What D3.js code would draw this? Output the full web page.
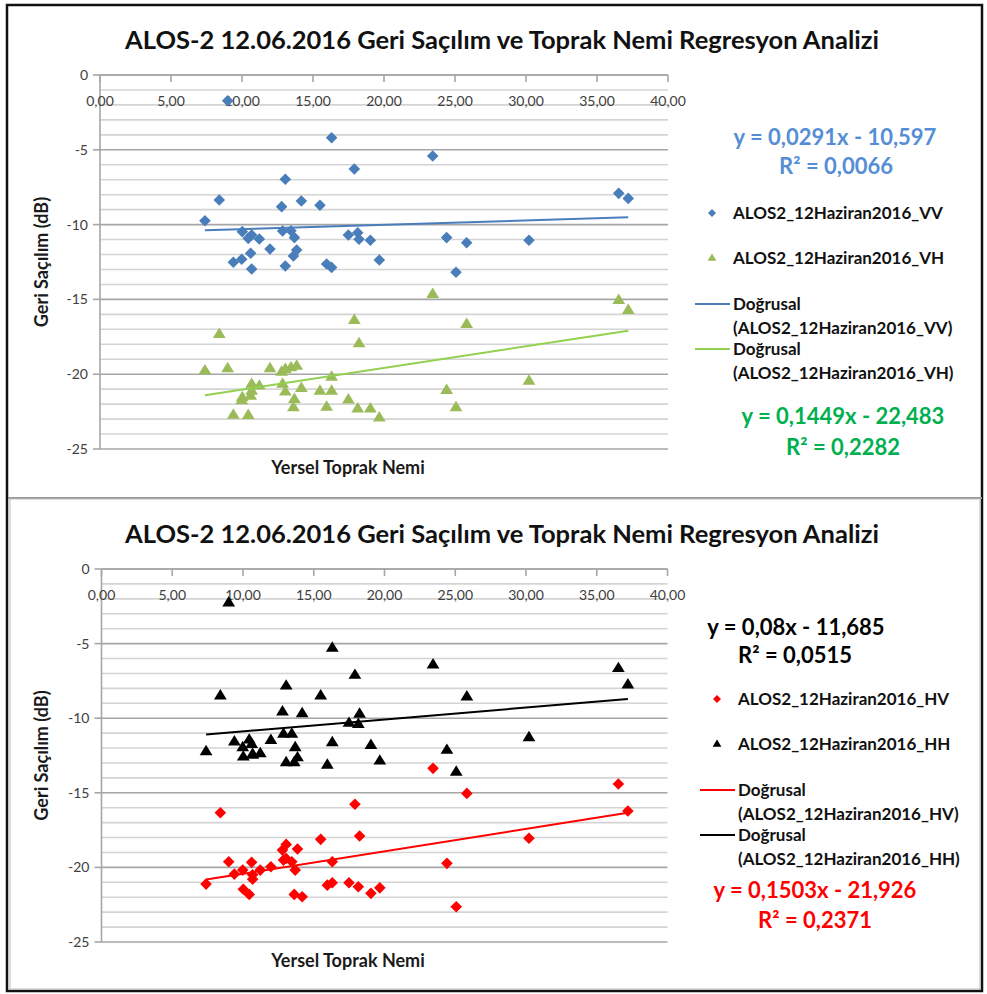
<!DOCTYPE html>
<html>
<head>
<meta charset="utf-8">
<script src="https://cdn.jsdelivr.net/npm/d3@7"></script>
<style>
  body { margin: 0; background: #fff; }
  text { font-family: Lato, "Open Sans", sans-serif; }
  .tick_lbl { font-size: 14px; fill: #404040; }
  .axis_title { font-size: 18px; font-weight: bold; fill: #1a1a1a; }
  .title { font-size: 25.5px; font-weight: bold; fill: #111; }
  .leg { font-size: 17px; font-weight: bold; fill: #111; }
  .eq { font-size: 22px; font-weight: bold; }
</style>
</head>
<body>
<svg id="chart" width="987" height="994"></svg>
<script>
// soil moisture (x) shared by every series
const nem = [7.39, 8.40, 8.99, 9.39, 9.98, 10.02, 10.44, 10.61, 10.68, 10.68,
             11.22, 11.97, 12.79, 12.86, 13.05, 13.05, 13.45, 13.62, 13.69, 13.85,
             14.18, 15.49, 15.96, 16.31, 16.31, 17.49, 17.91, 18.15, 18.24, 19.04,
             19.67, 23.43, 24.41, 25.07, 25.82, 30.21, 36.53, 37.20];

const vv = [-9.74, -8.36, -1.72, -12.52, -12.32, -10.47, -10.92, -11.92, -10.70, -12.97,
            -10.96, -11.63, -8.80, -10.43, -6.97, -12.77, -10.41, -12.10, -10.87, -11.70,
            -8.42, -8.71, -12.63, -4.19, -12.86, -10.70, -6.28, -10.54, -10.98, -11.05,
            -12.37, -5.41, -10.87, -13.19, -11.21, -11.05, -7.91, -8.25];

const vh = [-19.70, -17.27, -19.56, -22.66, -21.70, -21.50, -22.68, -21.39, -20.60, -21.06,
            -20.72, -19.56, -19.79, -20.60, -19.61, -21.12, -19.50, -22.17, -21.61, -19.39,
            -20.88, -21.06, -22.13, -20.12, -21.06, -21.65, -16.33, -22.25, -17.89, -22.25,
            -22.85, -14.60, -21.01, -22.17, -16.60, -20.39, -15.00, -15.66];

const hv = [-21.12, -16.34, -19.62, -20.45, -20.18, -21.46, -21.81, -19.66, -20.79, -20.50,
            -20.18, -19.96, -18.84, -19.51, -18.46, -19.40, -19.62, -21.81, -20.18, -18.77,
            -21.97, -18.12, -21.19, -19.62, -21.03, -21.03, -15.77, -21.30, -17.90, -21.74,
            -21.37, -13.36, -19.73, -22.64, -15.04, -18.05, -14.41, -16.22];

const hh = [-12.17, -8.44, -2.20, -11.52, -11.90, -12.53, -11.39, -11.68, -12.35, -12.40,
            -12.31, -11.41, -9.51, -11.00, -7.77, -12.91, -11.00, -12.91, -11.90, -12.58,
            -9.62, -8.44, -13.07, -5.23, -11.57, -10.27, -7.05, -10.34, -9.66, -11.75,
            -12.80, -6.36, -12.08, -13.54, -8.50, -11.23, -6.60, -7.70];

const xTicks = [0, 5, 10, 15, 20, 25, 30, 35, 40];
const yTicks = [0, -5, -10, -15, -20, -25];
const yMinor = d3.range(-25, 1, 1);

// linear trend: slope, intercept
const fitVV = [0.0291, -10.597];
const fitVH = [0.1449, -22.483];
const fitHV = [0.1503, -21.926];
const fitHH = [0.08, -11.685];

const title = "ALOS-2 12.06.2016 Geri Saçılım ve Toprak Nemi Regresyon Analizi";
const xTitle = "Yersel Toprak Nemi";
const yTitle = "Geri Saçılım (dB)";

let svg = d3.select("#chart");

// frame
svg.append("rect").attr("x", 7).attr("y", 5).attr("width", 975).attr("height", 986)
    .attr("fill", "none").attr("stroke", "#111").attr("stroke-width", 2.5);
svg.append("line").attr("x1", 8).attr("x2", 982).attr("y1", 498).attr("y2", 498)
    .attr("stroke", "#999").attr("stroke-width", 2);
svg.append("rect").attr("x", 10).attr("y", 499).attr("width", 970).attr("height", 490)
    .attr("fill", "none").attr("stroke", "#bbb").attr("stroke-width", 1);

function diamond(g, x, y, s, color) {
    let p = d3.path();
    p.moveTo(x, y - s); p.lineTo(x + s, y); p.lineTo(x, y + s); p.lineTo(x - s, y); p.closePath();
    g.append("path").attr("d", p.toString()).attr("fill", color);
}

function triangle(g, x, y, s, color) {
    let p = d3.path();
    p.moveTo(x, y - s); p.lineTo(x + s * 1.1, y + s * 0.8); p.lineTo(x - s * 1.1, y + s * 0.8); p.closePath();
    g.append("path").attr("d", p.toString()).attr("fill", color);
}

function drawPanel(o) {
    let g = svg.append("g");
    let x = d3.scaleLinear().domain([0, 40]).range([o.left, o.right]);
    let y = d3.scaleLinear().domain([0, -25]).range([o.top, o.bottom]);

    g.append("text").attr("class", "title").attr("x", 502).attr("y", o.top - 26)
        .attr("text-anchor", "middle").text(title);

    // gridlines
    g.selectAll(".minor").data(yMinor).enter().append("line")
        .attr("x1", x(0)).attr("x2", x(40))
        .attr("y1", d => y(d)).attr("y2", d => y(d))
        .attr("stroke", d => d % 5 === 0 ? "#a6a6a6" : "#d4d4d4")
        .attr("stroke-width", 1.6);

    // y axis
    g.append("line").attr("x1", x(0)).attr("x2", x(0)).attr("y1", y(0)).attr("y2", y(-25))
        .attr("stroke", "#a6a6a6").attr("stroke-width", 1.6);
    g.selectAll(".yt").data(yTicks).enter().append("line")
        .attr("x1", x(0) - 7).attr("x2", x(0)).attr("y1", d => y(d)).attr("y2", d => y(d))
        .attr("stroke", "#a6a6a6").attr("stroke-width", 1.6);
    g.selectAll(".yl").data(yTicks).enter().append("text").attr("class", "tick_lbl")
        .attr("x", x(0) - 12).attr("y", d => y(d) + 5).attr("text-anchor", "end")
        .text(d => d);

    // x axis on top
    g.append("line").attr("x1", x(0)).attr("x2", x(40)).attr("y1", y(0)).attr("y2", y(0))
        .attr("stroke", "#a6a6a6").attr("stroke-width", 1.6);
    g.selectAll(".xt").data(xTicks).enter().append("line")
        .attr("x1", d => x(d)).attr("x2", d => x(d)).attr("y1", y(0)).attr("y2", y(0) + 7)
        .attr("stroke", "#a6a6a6").attr("stroke-width", 1.6);
    g.selectAll(".xl").data(xTicks).enter().append("text").attr("class", "tick_lbl")
        .attr("x", d => x(d)).attr("y", y(0) + 31).attr("text-anchor", "middle")
        .text(d => d.toFixed(2).replace(".", ","));

    // axis titles
    g.append("text").attr("class", "axis_title").attr("text-anchor", "middle")
        .attr("transform", "translate(48," + (o.top + o.bottom) / 2 + ") rotate(-90)")
        .text(yTitle);
    g.append("text").attr("class", "axis_title").attr("text-anchor", "middle")
        .attr("x", 348).attr("y", o.bottom + 25).text(xTitle);

    let xMin = d3.min(nem), xMax = d3.max(nem);
    // series
    o.series.forEach(s => {
        nem.forEach((v, i) => {
            if (s.shape === "diamond") diamond(g, x(v), y(s.values[i]), 5.8, s.color);
            else triangle(g, x(v), y(s.values[i]), 5.8, s.color);
        });
    });
    o.series.forEach(s => {
        g.append("line")
            .attr("x1", x(xMin)).attr("y1", y(s.fit[0] * xMin + s.fit[1]))
            .attr("x2", x(xMax)).attr("y2", y(s.fit[0] * xMax + s.fit[1]))
            .attr("stroke", s.lineColor).attr("stroke-width", 2);
    });

    // legend
    let lg = svg.append("g");
    let lx = o.legendX;
    o.eqs.forEach(e => {
        lg.append("text").attr("class", "eq").attr("x", e.x).attr("y", e.y)
            .attr("text-anchor", "middle").attr("fill", e.color).text(e.text);
    });
    o.legendSeries.forEach((s, k) => {
        let ly = o.legendTop + k * 44.5;
        if (s.shape === "diamond") diamond(lg, lx - 21, ly, 4, s.color);
        else triangle(lg, lx - 21, ly, 4, s.color);
        lg.append("text").attr("class", "leg").attr("x", lx).attr("y", ly + 6).text(s.name);
    });
    o.legendLines.forEach((s, k) => {
        let ly = o.legendTop + 91 + k * 45;
        lg.append("line").attr("x1", lx - 38).attr("x2", lx - 3).attr("y1", ly).attr("y2", ly)
            .attr("stroke", s.lineColor).attr("stroke-width", 2);
        lg.append("text").attr("class", "leg").attr("x", lx).attr("y", ly + 6).text("Doğrusal");
        lg.append("text").attr("class", "leg").attr("x", lx).attr("y", ly + 30).text("(" + s.name + ")");
    });
}

let sVV = {name: "ALOS2_12Haziran2016_VV", values: vv, fit: fitVV, shape: "diamond", color: "#4a7ebb", lineColor: "#4a7ebb"};
let sVH = {name: "ALOS2_12Haziran2016_VH", values: vh, fit: fitVH, shape: "triangle", color: "#9bbb59", lineColor: "#92d050"};
let sHV = {name: "ALOS2_12Haziran2016_HV", values: hv, fit: fitHV, shape: "diamond", color: "#ff0000", lineColor: "#ff0000"};
let sHH = {name: "ALOS2_12Haziran2016_HH", values: hh, fit: fitHH, shape: "triangle", color: "#000000", lineColor: "#000000"};

drawPanel({
    left: 100, right: 668, top: 75, bottom: 449,
    series: [sVV, sVH],
    legendX: 733, legendTop: 213,
    legendSeries: [sVV, sVH],
    legendLines: [sVV, sVH],
    eqs: [
        {text: "y = 0,0291x - 10,597", x: 835, y: 145, color: "#558ed5"},
        {text: "R² = 0,0066", x: 836, y: 174, color: "#558ed5"},
        {text: "y = 0,1449x - 22,483", x: 843, y: 424, color: "#00b050"},
        {text: "R² = 0,2282", x: 843, y: 455, color: "#00b050"}
    ]
});

drawPanel({
    left: 101.5, right: 667.5, top: 569, bottom: 942,
    series: [sHV, sHH],
    legendX: 738, legendTop: 699,
    legendSeries: [sHV, sHH],
    legendLines: [sHV, sHH],
    eqs: [
        {text: "y = 0,08x - 11,685", x: 796, y: 635, color: "#000"},
        {text: "R² = 0,0515", x: 795, y: 663, color: "#000"},
        {text: "y = 0,1503x - 21,926", x: 815, y: 898, color: "#ff0000"},
        {text: "R² = 0,2371", x: 815, y: 928, color: "#ff0000"}
    ]
});
</script>
</body>
</html>
